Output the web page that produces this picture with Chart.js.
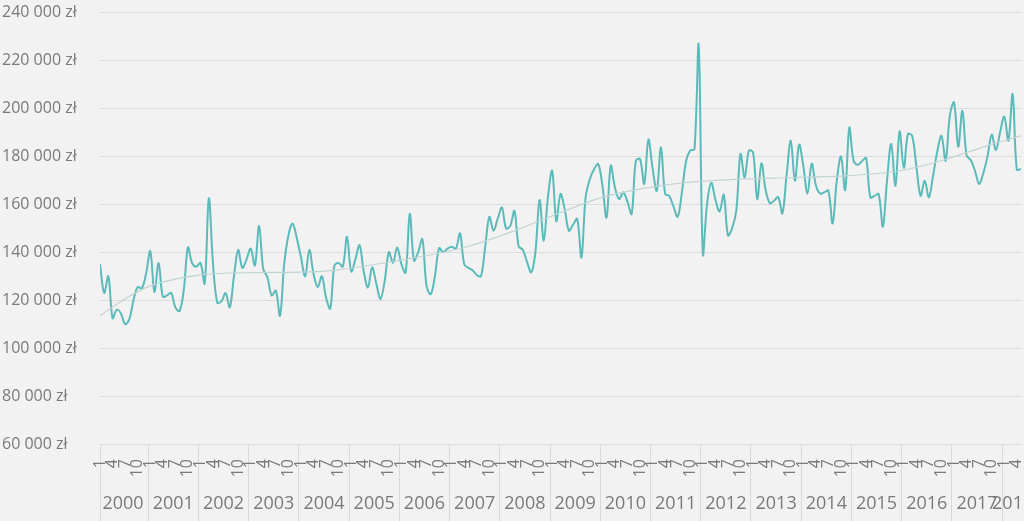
<!DOCTYPE html>
<html lang="pl">
<head>
<meta charset="utf-8">
<title>Sprzedaż miesięczna 2000–2018</title>
<script src="https://cdn.jsdelivr.net/npm/chart.js@4.4.1/dist/chart.umd.min.js"></script>
<style>
  html, body { margin: 0; padding: 0; background: #f2f2f2; overflow: hidden; }
  #wrap { width: 1024px; height: 521px; }
</style>
</head>
<body>
<div id="wrap"><canvas id="chart" width="1024" height="521"></canvas></div>
<script>
// lata na osi (2018 tylko do maja)
const years = ['2000', '2001', '2002', '2003', '2004', '2005', '2006', '2007', '2008', '2009',
               '2010', '2011', '2012', '2013', '2014', '2015', '2016', '2017', '2018'];
// miesiące opisane na osi
const monthsShown = [1, 4, 7, 10];

// wartości miesięczne od 01.2000 do 05.2018
const sales = [
  135000, 123000, 130000, 112500, 116000, 114500, 110000, 112000, 120000, 125500, 125000, 131000, // 2000
  140500, 123500, 135500, 121500, 122000, 123000, 117000, 115500, 124000, 142000, 135500, 134000, // 2001
  135500, 127000, 162500, 135000, 119000, 119500, 123000, 117000, 130000, 141000, 133500, 137000, // 2002
  141500, 134500, 151000, 133000, 129500, 122000, 124000, 113500, 135000, 147000, 152000, 146000, // 2003
  138000, 130000, 141000, 131000, 125500, 130000, 121000, 116500, 134500, 135500, 134000, 146500, // 2004
  132000, 137000, 143000, 132000, 125300, 133700, 127000, 120500, 128000, 140000, 135700, 142000, // 2005
  135000, 131500, 156000, 136500, 140000, 145500, 126000, 122500, 130000, 141700, 140000, 141500, // 2006
  142300, 141500, 147900, 135000, 133500, 132500, 130500, 130000, 142000, 154800, 149000, 154000, // 2007
  158700, 150000, 151000, 157300, 142500, 141000, 136000, 131600, 140000, 161800, 144800, 163000, // 2008
  174000, 153000, 164300, 158000, 149000, 151500, 153900, 137800, 163000, 170500, 174500, 176800, // 2009
  168000, 154500, 176100, 167000, 162200, 165000, 161000, 156000, 178200, 178900, 168500, 187000, // 2010
  175000, 165700, 183800, 164300, 163500, 159000, 154800, 165000, 178000, 182500, 183000, 226600, // 2011
  139300, 160000, 169000, 162000, 157000, 164000, 147000, 150000, 157500, 181000, 171200, 182400, // 2012
  181700, 162200, 177100, 166000, 160500, 161500, 163000, 156200, 172000, 186500, 169800, 184900, // 2013
  176000, 164500, 177000, 168000, 164500, 165000, 165700, 152000, 170000, 180000, 166000, 192000, // 2014
  178200, 176500, 178000, 179300, 162900, 163500, 164300, 150700, 170000, 185200, 167800, 190400, // 2015
  175200, 189400, 188600, 176000, 163600, 169800, 162900, 172000, 182000, 188600, 178200, 197000, // 2016
  202500, 184000, 199000, 180300, 178500, 174000, 168500, 173000, 180000, 189000, 182700, 190000, // 2017
  196600, 186600, 206000, 174500, 174700                                                          // 2018
];

// linia trendu odczytana w wybranych miesiącach (numer miesiąca od 01.2000)
const trendIdx  = [0, 6, 12, 18, 24, 36, 48, 55, 71, 87, 99, 110, 120, 134, 146, 166, 179, 191, 201, 212, 220];
const trendVals = [113500, 120600, 126000, 128800, 130600, 131500, 131700, 132300, 136500, 142000, 149000,
                   156600, 162900, 167800, 169900, 171200, 172000, 174000, 178200, 184500, 188600];

const yMin = 60000, yMax = 240000, yStep = 20000;

const lastIdx = sales.length - 1;
const sepColor = '#d9d9d9';
const textColor = '#7a7a7a';

function fmtZl(v) {
  return String(v).replace(/\B(?=(\d{3})+(?!\d))/g, ' ') + ' zł';
}

// podziałka miesięcy: opisane miesiące + separatory lat
const monthTicks = [];
sales.forEach((v, i) => {
  const m = i % 12 + 1;
  if (i > 0 && m === 1) monthTicks.push({ value: i - 0.5, label: '', sep: true });
  if (monthsShown.includes(m)) monthTicks.push({ value: i, label: String(m), sep: i === 0 });
});

// podziałka lat: separatory + środek każdego roku
const yearTicks = [];
years.forEach((y, k) => {
  const start = 12 * k - 0.5;
  const end = Math.min(12 * (k + 1) - 0.5, lastIdx + 0.5);
  yearTicks.push({ value: Math.max(start, 0), label: '', sep: true });
  yearTicks.push({ value: (start + end) / 2, label: y, sep: false });
});

const ctx = document.getElementById('chart');

new Chart(ctx, {
  type: 'line',
  data: {
    datasets: [
      {
        label: 'Trend',
        data: trendIdx.map((x, i) => ({ x: x, y: trendVals[i] })),
        borderColor: '#c3d3d3',
        borderWidth: 1.2,
        pointRadius: 0,
        cubicInterpolationMode: 'monotone',
        fill: false
      },
      {
        label: 'Sprzedaż',
        data: sales.map((v, i) => ({ x: i, y: v })),
        borderColor: '#5bbaba',
        borderWidth: 2,
        pointRadius: 0,
        tension: 0.35,
        fill: false
      }
    ]
  },
  options: {
    responsive: false,
    animation: false,
    layout: { padding: { top: 12, left: 2, right: 3, bottom: 0 } },
    plugins: {
      legend: { display: false },
      tooltip: { enabled: false }
    },
    scales: {
      y: {
        min: yMin,
        max: yMax,
        afterFit: s => { s.width = 98; },
        ticks: {
          stepSize: yStep,
          crossAlign: 'far',
          color: textColor,
          font: { family: 'Open Sans', size: 16 },
          callback: v => fmtZl(v)
        },
        grid: { color: '#dcdcdc', drawTicks: false },
        border: { display: false }
      },
      x: {
        type: 'linear',
        position: 'bottom',
        weight: 0,
        min: 0,
        max: lastIdx,
        afterBuildTicks: s => { s.ticks = monthTicks.map(t => ({ value: t.value, sep: t.sep })); },
        afterFit: s => { s.height = 33; },
        ticks: {
          autoSkip: false,
          minRotation: 90,
          maxRotation: 90,
          padding: -21,
          color: textColor,
          font: { family: 'Open Sans', size: 16 },
          callback: (v, i) => monthTicks[i].label
        },
        grid: {
          drawOnChartArea: false,
          tickLength: 36,
          color: c => (c.tick && c.tick.sep) ? sepColor : 'rgba(0,0,0,0)'
        },
        border: { display: false }
      },
      year: {
        type: 'linear',
        position: 'bottom',
        weight: 1,
        min: 0,
        max: lastIdx,
        afterBuildTicks: s => { s.ticks = yearTicks.map(t => ({ value: t.value, sep: t.sep })); },
        afterFit: s => { s.height = 44; },
        ticks: {
          autoSkip: false,
          maxRotation: 0,
          padding: -28,
          color: textColor,
          font: { family: 'Open Sans', size: 18 },
          callback: (v, i) => yearTicks[i].label
        },
        grid: {
          drawOnChartArea: false,
          tickLength: 44,
          color: c => (c.tick && c.tick.sep) ? sepColor : 'rgba(0,0,0,0)'
        },
        border: { display: false }
      }
    }
  }
});
</script>
</body>
</html>
